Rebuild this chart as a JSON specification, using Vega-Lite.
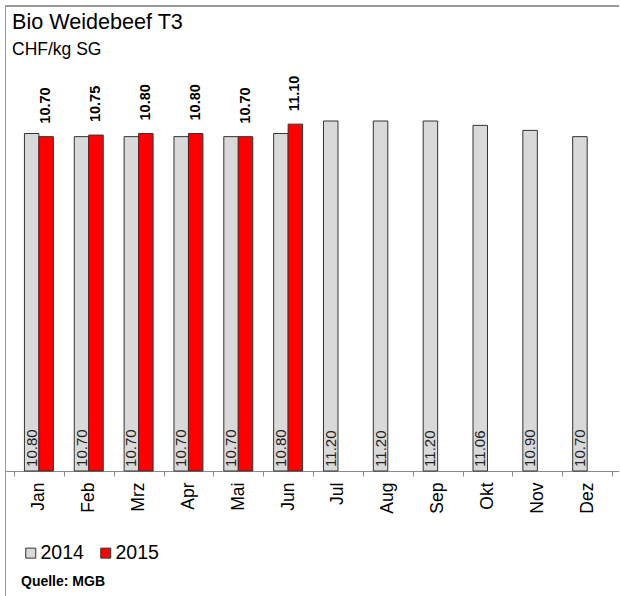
{
  "$schema": "https://vega.github.io/schema/vega-lite/v6.json",
  "width": 614,
  "height": 590,
  "autosize": "none",
  "padding": {"left": 5, "top": 6, "right": 0, "bottom": 0},
  "background": "white",
  "config": {"font": "Liberation Sans", "view": {"stroke": null}},
  "title": {
    "text": "Bio Weidebeef T3",
    "subtitle": "CHF/kg SG",
    "anchor": "start",
    "frame": "group",
    "offset": -53,
    "fontSize": 21.6,
    "fontWeight": "normal",
    "color": "black",
    "subtitleFontSize": 17.5,
    "subtitleColor": "black",
    "subtitlePadding": 7,
    "dx": 7
  },
  "data": {
    "values": [
      {"month": "Jan", "year": "2014", "value": 10.80},
      {"month": "Feb", "year": "2014", "value": 10.70},
      {"month": "Mrz", "year": "2014", "value": 10.70},
      {"month": "Apr", "year": "2014", "value": 10.70},
      {"month": "Mai", "year": "2014", "value": 10.70},
      {"month": "Jun", "year": "2014", "value": 10.80},
      {"month": "Jul", "year": "2014", "value": 11.20},
      {"month": "Aug", "year": "2014", "value": 11.20},
      {"month": "Sep", "year": "2014", "value": 11.20},
      {"month": "Okt", "year": "2014", "value": 11.06},
      {"month": "Nov", "year": "2014", "value": 10.90},
      {"month": "Dez", "year": "2014", "value": 10.70},
      {"month": "Jan", "year": "2015", "value": 10.70},
      {"month": "Feb", "year": "2015", "value": 10.75},
      {"month": "Mrz", "year": "2015", "value": 10.80},
      {"month": "Apr", "year": "2015", "value": 10.80},
      {"month": "Mai", "year": "2015", "value": 10.70},
      {"month": "Jun", "year": "2015", "value": 11.10}
    ]
  },
  "layer": [
    {
      "mark": {"type": "bar", "stroke": "#333333", "strokeWidth": 1},
      "encoding": {
        "x": {
          "field": "month",
          "type": "nominal",
          "sort": ["Jan", "Feb", "Mrz", "Apr", "Mai", "Jun", "Jul", "Aug", "Sep", "Okt", "Nov", "Dez"],
          "scale": {"paddingInner": 0, "paddingOuter": 0.1595, "align": 0.566},
          "axis": {
            "title": null,
            "labelAngle": 270,
            "labelAlign": "right",
            "labelBaseline": "middle",
            "labelFontSize": 17.5,
            "labelColor": "black",
            "labelPadding": 6,
            "tickBand": "extent",
            "ticks": true,
            "tickSize": 5,
            "tickColor": "#8c8c8c",
            "domainColor": "#8c8c8c",
            "grid": false,
            "offset": -125
          }
        },
        "xOffset": {
          "field": "year",
          "type": "nominal",
          "scale": {"paddingInner": 0, "paddingOuter": 0.72}
        },
        "y": {
          "field": "value",
          "type": "quantitative",
          "scale": {"domain": [-4.0, 14.88], "nice": false, "zero": false},
          "axis": {"orient": "left", "domainColor": "#9a9a9a", "labels": false, "ticks": false, "grid": false, "title": null}
        },
        "y2": {"datum": 0},
        "color": {
          "field": "year",
          "type": "nominal",
          "scale": {"domain": ["2014", "2015"], "range": ["#d9d9d9", "#ff0000"]},
          "legend": {
            "orient": "none",
            "legendX": 16,
            "legendY": 537,
            "direction": "horizontal",
            "title": "Quelle: MGB",
            "titleOrient": "bottom",
            "titleAnchor": "start",
            "titleFontSize": 14,
            "titleFontWeight": "bold",
            "titleColor": "black",
            "titlePadding": 12,
            "labelFontSize": 19.5,
            "labelColor": "black",
            "labelOffset": 0,
            "columnPadding": 12,
            "symbolType": "square",
            "symbolSize": 100,
            "symbolStrokeColor": "#333333",
            "symbolStrokeWidth": 1,
            "symbolOpacity": 1
          }
        }
      }
    },
    {
      "transform": [{"filter": "datum.year === '2014'"}],
      "mark": {"type": "text", "angle": 270, "align": "left", "baseline": "middle", "fontSize": 15, "color": "#222222"},
      "encoding": {
        "x": {"field": "month", "type": "nominal", "sort": ["Jan", "Feb", "Mrz", "Apr", "Mai", "Jun", "Jul", "Aug", "Sep", "Okt", "Nov", "Dez"]},
        "xOffset": {"field": "year", "type": "nominal"},
        "y": {"datum": 0.13},
        "text": {"field": "value", "type": "quantitative", "format": ".2f"}
      }
    },
    {
      "transform": [{"filter": "datum.year === '2015'"}],
      "mark": {"type": "text", "angle": 270, "align": "left", "baseline": "middle", "fontSize": 14.5, "fontWeight": "bold", "color": "black"},
      "encoding": {
        "x": {"field": "month", "type": "nominal", "sort": ["Jan", "Feb", "Mrz", "Apr", "Mai", "Jun", "Jul", "Aug", "Sep", "Okt", "Nov", "Dez"]},
        "xOffset": {"field": "year", "type": "nominal"},
        "y": {"field": "value", "type": "quantitative"},
        "yOffset": {"value": -13},
        "text": {"field": "value", "type": "quantitative", "format": ".2f"}
      }
    },
    {
      "mark": {"type": "rule", "color": "#9a9a9a", "strokeWidth": 1},
      "encoding": {
        "y": {"datum": 14.88}
      }
    }
  ]
}
